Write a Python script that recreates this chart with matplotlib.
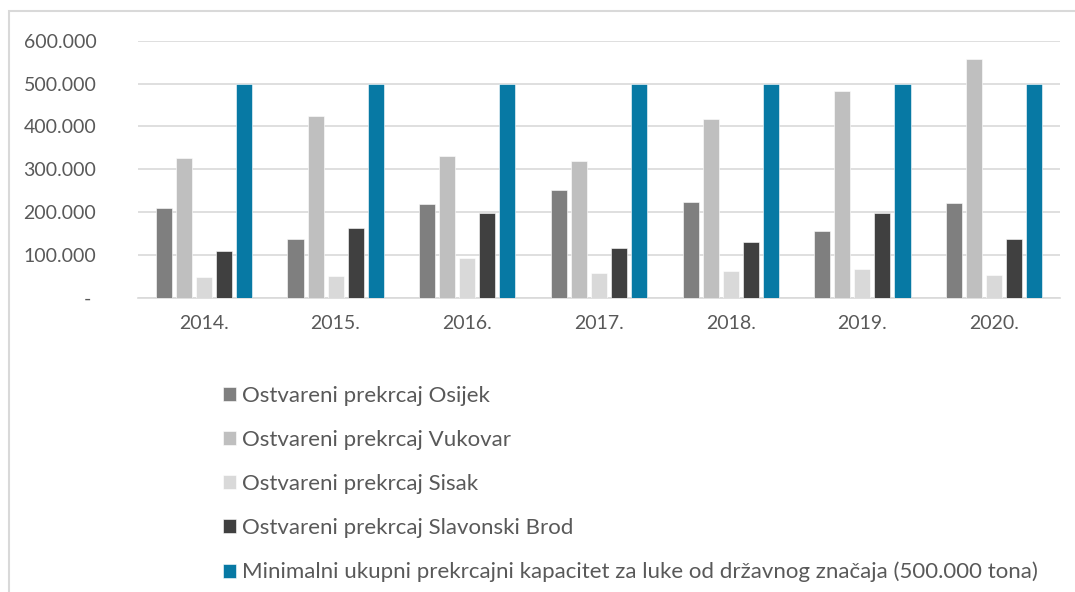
import matplotlib
matplotlib.use("Agg")
import matplotlib.pyplot as plt
from matplotlib.patches import Rectangle
from matplotlib.ticker import FuncFormatter
import numpy as np

plt.rcParams['font.family'] = ['Lato', 'DejaVu Sans']

years = ['2014.', '2015.', '2016.', '2017.', '2018.', '2019.', '2020.']
osijek = [209000, 137000, 220000, 252000, 225000, 157000, 221000]
vukovar = [327000, 424000, 332000, 319000, 418000, 483000, 557000]
sisak = [50000, 52000, 93000, 59000, 64000, 67000, 54000]
brod = [110000, 164000, 198000, 116000, 131000, 198000, 137000]
minimum = [500000, 500000, 500000, 500000, 500000, 500000, 500000]

labels = ['Ostvareni prekrcaj Osijek',
          'Ostvareni prekrcaj Vukovar',
          'Ostvareni prekrcaj Sisak',
          'Ostvareni prekrcaj Slavonski Brod',
          'Minimalni ukupni prekrcajni kapacitet za luke od državnog značaja (500.000 tona)']
colors = ['#7f7f7f', '#bfbfbf', '#d9d9d9', '#404040', '#0779a4']
text_col = '#595959'

fig = plt.figure(figsize=(10.75, 5.92), dpi=100)
ax = fig.add_axes([138/1075, 1 - 298/592, 922/1075, (298 - 40.7)/592])

x = np.arange(len(years))
w = 0.122
step = 0.152
series = [osijek, vukovar, sisak, brod, minimum]
for i, (vals, col, lab) in enumerate(zip(series, colors, labels)):
    ax.bar(x + (i - 2) * step, vals, width=w, color=col, label=lab,
           edgecolor='white', linewidth=0.4, zorder=3)

ax.set_xlim(-0.5, len(years) - 0.5)
ax.set_ylim(0, 600000)
ax.set_yticks(range(0, 600001, 100000))


def fmt(v, pos):
    if v == 0:
        return '- '
    return f'{int(v):,}'.replace(',', '.')


ax.yaxis.set_major_formatter(FuncFormatter(fmt))
ax.set_xticks(x)
ax.set_xticklabels(years)
ax.grid(axis='y', color='#d9d9d9', linewidth=1.2, zorder=0)
for s in ['top', 'right', 'left']:
    ax.spines[s].set_visible(False)
ax.spines['bottom'].set_color('#d9d9d9')
ax.spines['bottom'].set_linewidth(1.2)
ax.tick_params(axis='both', length=0, labelsize=14, colors=text_col)
ax.tick_params(axis='y', pad=30)
ax.tick_params(axis='x', pad=12)

leg = fig.legend(loc='upper left', bbox_to_anchor=(214/1075, 1 - 377/592),
                 frameon=False, fontsize=16, handlelength=0.6, handleheight=0.6,
                 handletextpad=0.25, labelspacing=1.08, borderaxespad=0)
for t in leg.get_texts():
    t.set_color(text_col)

# chart frame, cut off on the right and bottom like the reference
fig.patches.append(Rectangle((9/1075, -0.1), 1.2, 1 - 11/592 + 0.1,
                             transform=fig.transFigure, fill=False,
                             edgecolor='#d9d9d9', linewidth=1.5))

fig.savefig('out.png', dpi=100)
